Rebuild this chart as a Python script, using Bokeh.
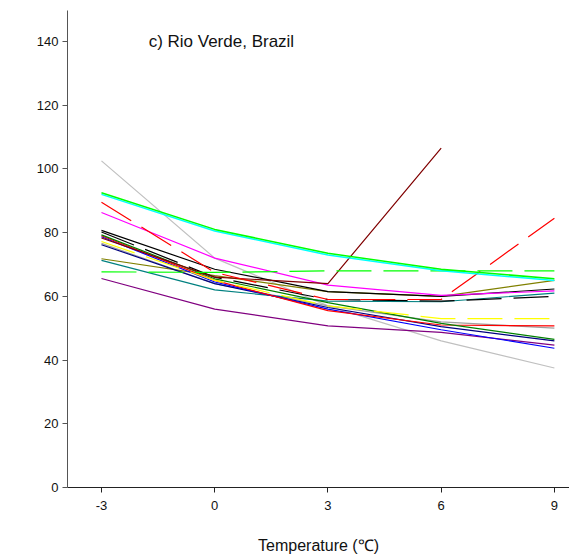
from bokeh.plotting import figure
from bokeh.models import Range1d, Label, FixedTicker
from bokeh.embed import file_html
from bokeh.resources import INLINE

temps = [-3, 0, 3, 6, 9]
temp_labels = {-3: "-3", 0: "0", 3: "3", 6: "6", 9: "9"}
y_ticks = [0, 20, 40, 60, 80, 100, 120, 140]

# series values
silver = [102.5, 72, 57, 46, 37.5]
lime_solid = [92.5, 81, 73.5, 68.5, 65.5]
cyan_solid = [92, 80.5, 73, 68, 65]
red_dashed = [89.5, 67.5, 59, 59, 84.5]
magenta = [86.3, 72, 63.5, 60.3, 61.7]
black1 = [80.7, 68.5, 61.5, 60, 62.3]
black_dashed = [80.2, 66, 59, 58.5, 60]
green = [79.3, 65.5, 58, 51.5, 46.5]
red_solid = [79, 65, 55.5, 51, 50.7]
blue = [78.7, 64.5, 56, 49.5, 43.7]
maroon_x = [-3, 0, 3, 6]
maroon = [78.3, 66, 64, 106.5]
yellow_dashed = [77.2, 65, 57, 53, 53]
gray_mid = [76.6, 64, 57, 52, 50]
navy = [76.2, 64, 56.5, 50.5, 46]
olive = [71.8, 66.5, 61.5, 60, 65]
teal = [71.3, 62, 58.5, 58.3, 61]
lime_dashed = [67.7, 67.5, 68, 68, 68]
purple = [65.6, 56, 50.7, 48.7, 44.7]

series = [
    (temps, silver, "#c0c0c0", 1.2, "solid"),
    (temps, gray_mid, "#a0a0a0", 1.2, "solid"),
    (temps, teal, "#008080", 1.2, "solid"),
    (temps, olive, "#808000", 1.2, "solid"),
    (temps, purple, "#800080", 1.2, "solid"),
    (temps, navy, "#000080", 1.2, "solid"),
    (temps, blue, "#0000ff", 1.2, "solid"),
    (temps, red_solid, "#ff0000", 1.2, "solid"),
    (temps, green, "#008000", 1.2, "solid"),
    (temps, yellow_dashed, "#ffff00", 1.2, "35 12"),
    (temps, black_dashed, "#000000", 1.2, "35 12"),
    (temps, black1, "#000000", 1.2, "solid"),
    (temps, magenta, "#ff00ff", 1.2, "solid"),
    (maroon_x, maroon, "#800000", 1.2, "solid"),
    (temps, lime_dashed, "#00ff00", 1.2, "35 12"),
    (temps, red_dashed, "#ff0000", 1.2, "35 12"),
    (temps, cyan_solid, "#00ffff", 1.5, "solid"),
    (temps, lime_solid, "#00ff00", 1.5, "solid"),
]

p = figure(width=569, height=556, output_backend="svg", toolbar_location=None,
           x_range=Range1d(-3.9, 9.4), y_range=Range1d(0, 149.7),
           min_border_left=67, min_border_right=0, min_border_top=10, min_border_bottom=67)
p.outline_line_color = None
p.xgrid.grid_line_color = None
p.ygrid.grid_line_color = None
p.background_fill_color = "white"
p.border_fill_color = "white"

for xs, ys, col, w, dash in series:
    p.line(xs, ys, line_color=col, line_width=w, line_dash=dash)

p.xaxis.ticker = FixedTicker(ticks=temps)
p.xaxis.major_label_overrides = temp_labels
p.yaxis.ticker = FixedTicker(ticks=y_ticks)
for ax in (p.xaxis[0], p.yaxis[0]):
    ax.major_tick_out = 5
    ax.major_tick_in = 0
    ax.minor_tick_out = 0
    ax.minor_tick_in = 0
    ax.major_label_text_font = "Liberation Sans"
    ax.major_label_text_font_size = "13px"
    ax.major_label_text_color = "#111111"
p.xaxis.major_label_standoff = 8
p.yaxis.major_label_standoff = 4
p.xaxis.axis_line_color = "#222222"
p.xaxis.major_tick_line_color = "#222222"
p.yaxis.axis_line_color = "#555555"
p.yaxis.major_tick_line_color = "#555555"
p.xaxis.axis_label = "Temperature (\u2103)"
p.xaxis.axis_label_text_font = "Liberation Sans"
p.xaxis.axis_label_text_font_size = "16px"
p.xaxis.axis_label_text_font_style = "normal"
p.xaxis.axis_label_text_color = "#111111"
p.xaxis.axis_label_standoff = 24

p.add_layout(Label(x=-1.75, y=140, text="c) Rio Verde, Brazil", text_baseline="middle",
                   text_font="Liberation Sans", text_font_size="17px", text_color="#111111"))

open("out.html", "w").write(file_html(p, INLINE))
